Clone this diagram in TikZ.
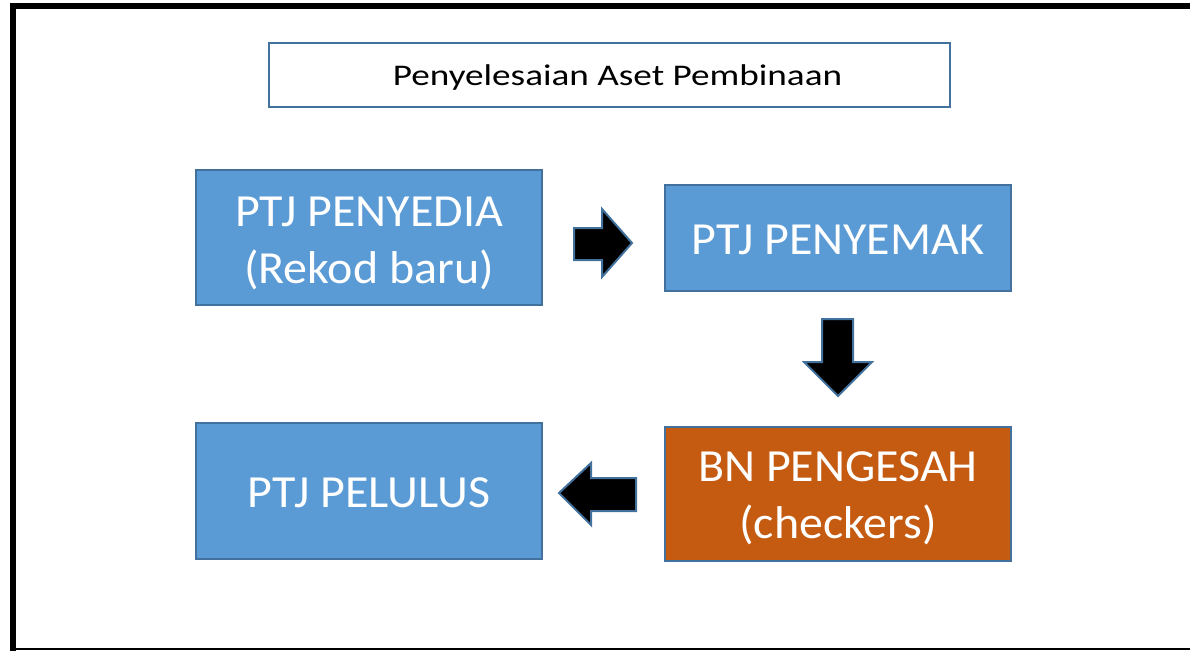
\documentclass[tikz,border=0pt]{standalone}
\usepackage{fontspec}
\setmainfont{Carlito}
\newfontfamily\titlefont[FakeStretch=1.24]{Carlito}
\newfontfamily\stagefont[FakeStretch=1.043]{Carlito}
\definecolor{boxblue}{HTML}{5B9BD5}
\definecolor{edgeblue}{HTML}{41719C}
\definecolor{boxorange}{HTML}{C55A11}
\tikzset{
  stagebox/.style={draw=edgeblue, line width=2pt, fill=boxblue,
    minimum width=346pt, inner sep=0pt},
  stagetext/.style={text=white, inner sep=0pt, align=center,
    font=\stagefont\fontsize{46}{57}\selectfont},
  titlebox/.style={draw=edgeblue, line width=1.5pt, fill=white,
    minimum width=681pt, minimum height=64pt, inner sep=0pt},
  titletext/.style={inner sep=0pt, font=\titlefont\fontsize{30}{34}\selectfont},
  blockarrow/.style={draw=edgeblue, line width=2pt, fill=black, line join=miter}
}
\begin{document}
\begin{tikzpicture}[x=1pt,y=-1pt]
\useasboundingbox (0,0) rectangle (1190,650);
% frame
\draw[line width=6pt] (12.5,652) -- (12.5,6) -- (1195,6);
\draw[line width=1.5pt] (10,649) -- (1195,649);
% title
\node[titlebox] (title) at (609.5,75) {};
\node[titletext] (titlelbl) at ([xshift=8pt,yshift=-3pt]title.center) {Penyelesaian Aset Pembinaan};
% stages
\node[stagebox, minimum height=135pt] (penyedia) at (369,237.5) {};
\node[stagetext] (penyedialbl) at ([yshift=-6pt]penyedia.center) {PTJ PENYEDIA\\(Rekod baru)};
\node[stagebox, minimum height=106pt] (penyemak) at (838,238) {};
\node[stagetext] (penyemaklbl) at ([yshift=-2pt]penyemak.center) {PTJ PENYEMAK};
\node[stagebox, minimum height=134pt, fill=boxorange] (pengesah) at (838,494) {};
\node[stagetext] (pengesahlbl) at ([yshift=-4pt]pengesah.center) {BN PENGESAH\\(checkers)};
\node[stagebox, minimum height=136pt] (pelulus) at (369,491) {};
\node[stagetext] (puluslbl) at ([yshift=-2pt]pelulus.center) {PTJ PELULUS};
% block arrows
\draw[blockarrow] (574,228) -- (602,228) -- (602,209) -- (632,243) -- (602,277) -- (602,260) -- (574,260) -- cycle;
\draw[blockarrow] (822,319) -- (853,319) -- (853,362) -- (872,362) -- (838,396) -- (804,362) -- (822,362) -- cycle;
\draw[blockarrow] (636,478) -- (591,478) -- (591,463) -- (559,493) -- (591,525) -- (591,511) -- (636,511) -- cycle;
\end{tikzpicture}
\end{document}
